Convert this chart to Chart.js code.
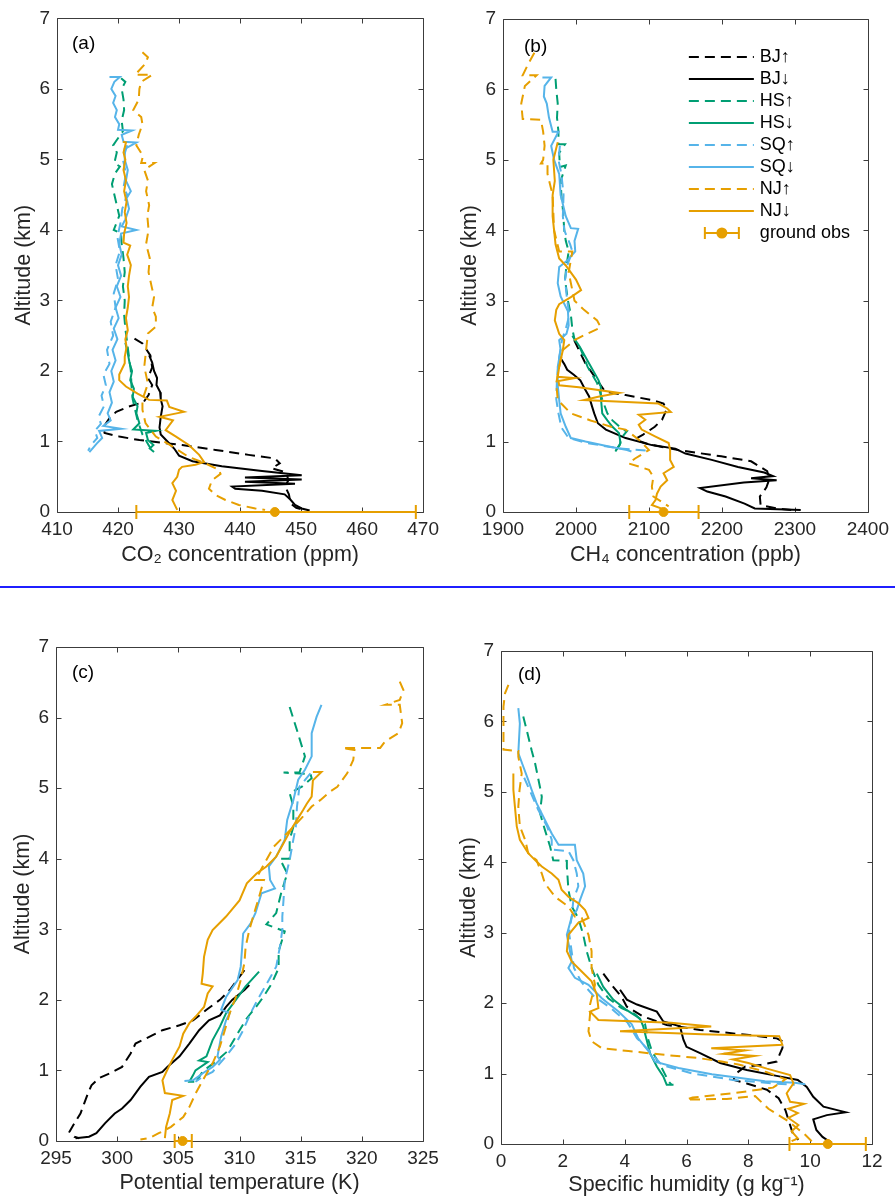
<!DOCTYPE html>
<html><head><meta charset="utf-8">
<script src="https://cdn.jsdelivr.net/npm/chart.js@4.4.1/dist/chart.umd.min.js"></script>
<style>
html,body{margin:0;padding:0;background:#fff;}
#wrap{position:relative;width:895px;height:1198px;overflow:hidden;background:#fff;}
canvas{position:absolute;display:block;}
#sep{position:absolute;left:0;top:586px;width:895px;height:2px;background:#1f1fff;}
</style></head><body>
<div id="wrap">
<canvas id="ca" width="445" height="580" style="left:0;top:0"></canvas>
<canvas id="cb" width="450" height="580" style="left:445px;top:0"></canvas>
<div id="sep"></div>
<canvas id="cc" width="445" height="598" style="left:0;top:600px"></canvas>
<canvas id="cd" width="450" height="598" style="left:445px;top:600px"></canvas>
</div>
<script>
// ---------------- DATA ----------------
const seriesLabels = ['BJ↑','BJ↓','HS↑','HS↓','SQ↑','SQ↓','NJ↑','NJ↓'];
const altTicks = [0,1,2,3,4,5,6,7];
const co2Ticks = [410,420,430,440,450,460,470];
const ch4Ticks = [1900,2000,2100,2200,2300,2400];
const thetaTicks = [295,300,305,310,315,320,325];
const qTicks = [0,2,4,6,8,10,12];

// Panel (a) CO2 [ppm, km]
const co2_BJ_up = [[422.7,2.46],[424.0,2.39],[425.3,2.22],[425.6,2.05],[424.9,1.9],[425.6,1.8],[425.0,1.66],[424.2,1.56],[421.6,1.49],[419.7,1.42],[418.6,1.33],[417.6,1.2],[417.8,1.12],[420.2,1.07],[423.5,1.02],[430.5,0.95],[436.0,0.88],[441.4,0.81],[445.7,0.76],[446.5,0.69],[445.2,0.62],[447.6,0.56],[447.9,0.45],[447.4,0.36],[448.0,0.25],[448.3,0.12],[449.2,0.06],[450.5,0.03]];
const co2_BJ_dn = [[425.1,2.22],[425.6,2.12],[425.9,2.0],[426.4,1.9],[426.3,1.8],[426.9,1.7],[427.0,1.6],[427.3,1.5],[427.0,1.35],[426.8,1.2],[427.0,1.1],[428.1,1.0],[429.2,0.9],[430.0,0.8],[432.2,0.72],[437.0,0.65],[443.6,0.58],[450.1,0.52],[440.8,0.49],[450.1,0.46],[440.8,0.43],[449.0,0.40],[438.7,0.36],[439.2,0.33],[443.6,0.30],[447.3,0.25],[448.2,0.18],[449.0,0.10],[450.1,0.05],[451.4,0.02]];
const co2_HS_up = [[420.5,6.15],[421.2,6.1],[420.6,6.0],[420.9,5.85],[421.0,5.7],[420.6,5.55],[420.8,5.4],[419.6,5.25],[419.2,5.2],[419.8,5.1],[419.4,4.95],[420.3,4.9],[419.5,4.8],[419.0,4.65],[419.4,4.5],[419.8,4.35],[420.2,4.2],[419.3,4.0],[420.5,3.95],[420.6,3.8],[420.9,3.6],[421.1,3.4],[420.8,3.2],[421.1,3.0],[421.0,2.8],[421.2,2.6],[421.5,2.4],[421.8,2.2],[422.1,2.0],[422.2,1.8],[422.4,1.6],[423.2,1.3],[424.0,1.1],[425.0,0.95],[425.7,0.85]];
const co2_HS_dn = [[421.2,2.4],[421.6,2.25],[421.9,2.11],[422.3,2.0],[422.0,1.87],[422.6,1.75],[422.4,1.63],[423.2,1.5],[423.0,1.4],[423.5,1.26],[422.5,1.17],[426.2,1.15],[424.6,1.12],[424.9,1.02],[425.8,0.95],[425.2,0.9],[425.9,0.85]];
const co2_SQ_up = [[421.5,5.2],[420.8,5.0],[421.3,4.8],[420.9,4.6],[421.5,4.5],[420.7,4.3],[420.4,4.1],[419.9,3.9],[420.3,3.7],[419.6,3.5],[420.0,3.3],[419.3,3.1],[419.6,2.9],[418.8,2.7],[419.2,2.5],[418.2,2.3],[418.6,2.1],[417.6,1.95],[418.0,1.8],[417.3,1.65],[417.7,1.5],[416.8,1.35],[417.2,1.25],[416.2,1.15],[416.6,1.05],[415.6,0.95],[415.1,0.87]];
const co2_SQ_dn = [[418.6,6.17],[420.3,6.17],[419.4,6.1],[418.9,6.0],[419.6,5.9],[419.2,5.8],[419.8,5.7],[419.5,5.6],[420.2,5.5],[420.0,5.42],[422.3,5.41],[420.6,5.35],[420.9,5.25],[423.0,5.24],[421.1,5.15],[421.1,5.0],[421.6,4.85],[421.3,4.7],[422.1,4.55],[421.4,4.45],[421.8,4.3],[421.2,4.15],[420.6,4.05],[423.0,4.0],[420.5,3.95],[420.2,3.8],[420.6,3.65],[420.0,3.5],[420.5,3.35],[419.8,3.2],[420.4,3.05],[419.6,2.9],[420.1,2.75],[419.3,2.6],[419.9,2.45],[419.1,2.3],[419.6,2.15],[418.9,2.0],[419.3,1.85],[418.6,1.7],[419.0,1.55],[418.3,1.4],[418.8,1.3],[417.6,1.22],[420.5,1.18],[416.9,1.15],[417.4,1.05],[416.5,0.97],[415.8,0.9],[415.3,0.85]];
const co2_NJ_up = [[424.0,6.52],[424.9,6.45],[424.4,6.35],[422.8,6.2],[425.6,6.2],[423.8,6.1],[423.5,6.0],[423.4,5.85],[422.5,5.7],[423.8,5.6],[424.0,5.5],[423.4,5.35],[423.0,5.2],[424.1,5.05],[423.8,4.95],[426.0,4.95],[424.3,4.85],[424.9,4.7],[424.6,4.55],[425.1,4.35],[424.8,4.2],[425.0,4.0],[424.6,3.8],[425.2,3.6],[425.0,3.4],[425.5,3.2],[425.9,3.05],[425.6,2.9],[426.2,2.77],[426.2,2.63],[424.9,2.53],[424.6,2.3],[424.3,2.06],[424.9,1.82],[424.0,1.59],[424.0,1.45],[424.5,1.26],[426.2,1.07],[428.9,0.93],[431.6,0.78],[434.3,0.69],[436.5,0.6],[436.8,0.54],[435.4,0.45],[434.9,0.33],[436.0,0.24],[437.6,0.17],[439.8,0.1],[442.5,0.05],[444.1,0.03]];
const co2_NJ_dn = [[420.8,5.25],[421.3,5.24],[420.9,5.1],[421.2,5.0],[420.9,4.85],[421.3,4.7],[421.0,4.55],[421.4,4.4],[421.1,4.25],[421.4,4.1],[421.0,3.95],[420.9,3.82],[422.0,3.78],[421.5,3.65],[422.1,3.5],[421.8,3.35],[421.6,3.2],[421.8,3.05],[421.6,2.9],[421.3,2.75],[421.6,2.58],[421.2,2.45],[421.4,2.34],[421.1,2.2],[421.1,2.11],[420.2,1.95],[420.2,1.87],[421.3,1.78],[423.2,1.68],[425.1,1.59],[428.0,1.58],[428.4,1.49],[430.8,1.42],[426.8,1.35],[429.0,1.3],[427.8,1.16],[429.5,1.07],[431.6,0.95],[433.3,0.81],[434.1,0.71],[432.7,0.67],[430.5,0.64],[430.0,0.6],[429.7,0.5],[428.9,0.41],[429.5,0.3],[428.9,0.17],[429.7,0.03]];
const co2_gobs = [445.7, 423.0, 468.8]; // mean, low, high

// Panel (b) CH4 [ppb, km]
const ch4_BJ_up = [[1997.5,2.44],[2004,2.3],[2013,2.11],[2029,1.87],[2040,1.71],[2068,1.66],[2104,1.59],[2120,1.54],[2124,1.45],[2118,1.31],[2108,1.21],[2092,1.1],[2080,1.03],[2100,0.96],[2140,0.88],[2199,0.79],[2240,0.72],[2262,0.58],[2265,0.47],[2261,0.35],[2252,0.22],[2253,0.1],[2275,0.05],[2295,0.03]];
const ch4_BJ_dn = [[1978,2.2],[1984,2.1],[1988,2.02],[1997,1.95],[2006,1.87],[2012,1.75],[2018,1.64],[2022,1.5],[2025,1.4],[2030,1.26],[2041,1.17],[2068,1.05],[2104,0.95],[2136,0.9],[2150,0.83],[2186,0.74],[2222,0.64],[2258,0.56],[2270,0.51],[2240,0.48],[2275,0.45],[2230,0.42],[2170,0.34],[2180,0.29],[2205,0.22],[2231,0.12],[2245,0.05],[2308,0.03]];
const ch4_HS_up = [[1972,6.15],[1973,6.0],[1975,5.8],[1974,5.6],[1976,5.4],[1976,5.22],[1985,5.22],[1977,5.1],[1978,4.9],[1986,4.92],[1979,4.7],[1980,4.5],[1982,4.3],[1984,4.0],[1986,3.85],[1990,3.7],[1987,3.5],[1985,3.3],[1989,3.0],[1993,2.8],[1995,2.6],[1998,2.45],[2007,2.3],[2016,2.06],[2029,1.83],[2036,1.6],[2043,1.4],[2050,1.3],[2064,1.17],[2070,1.15],[2062,1.05],[2060,0.95],[2052,0.84]];
const ch4_HS_dn = [[1995,2.5],[2005,2.35],[2018,2.11],[2031,1.87],[2034,1.78],[2034,1.64],[2036,1.4],[2043,1.3],[2050,1.21],[2059,1.12],[2061,0.98],[2054,0.86]];
const ch4_SQ_up = [[1978,5.2],[1976,5.0],[1980,4.8],[1983,4.5],[1982,4.2],[1984,4.0],[1992,3.8],[1995,3.7],[1988,3.5],[1985,3.3],[1988,3.0],[1991,2.8],[1986,2.6],[1981,2.45],[1977,2.2],[1974,1.9],[1973,1.6],[1976,1.4],[1980,1.2],[1990,1.05],[2015,0.98],[2060,0.9],[2100,0.87]];
const ch4_SQ_dn = [[1954,6.17],[1966,6.17],[1957,6.05],[1956,5.9],[1960,5.8],[1963,5.6],[1968,5.4],[1976,5.4],[1966,5.2],[1970,5.0],[1977,4.8],[1979,4.5],[1986,4.2],[1993,4.03],[2003,4.02],[1998,3.85],[1999,3.7],[1988,3.57],[1977,3.48],[1975,3.25],[1979,3.06],[1989,2.85],[1990,2.65],[1987,2.53],[1977,2.44],[1979,2.3],[1975,2.06],[1975,1.8],[1977,1.59],[1979,1.4],[1986,1.21],[1993,1.05],[2013,1.0],[2045,0.93],[2070,0.88],[2076,0.86]];
const ch4_NJ_up = [[1943,6.52],[1934,6.35],[1927,6.2],[1946,6.2],[1930,6.05],[1925,5.8],[1927,5.58],[1952,5.57],[1955,5.4],[1957,5.2],[1955,5.0],[1952,4.95],[1961,4.95],[1961,4.8],[1968,4.5],[1970,4.0],[1977,3.7],[1995,3.7],[1990,3.4],[1998,3.0],[2011,2.87],[2029,2.72],[2034,2.62],[2015,2.53],[1998,2.44],[1982,2.3],[1977,2.06],[1973,1.83],[1975,1.59],[1993,1.4],[2020,1.3],[2048,1.21],[2068,1.17],[2087,1.02],[2100,0.88],[2081,0.76],[2072,0.69],[2100,0.6],[2106,0.5],[2104,0.36],[2106,0.22],[2127,0.08]];
const ch4_NJ_dn = [[1975,5.25],[1969,5.0],[1971,4.7],[1968,4.5],[1968,4.2],[1970,4.0],[1972,3.8],[1977,3.6],[1986,3.5],[2000,3.3],[2007,3.15],[1993,3.05],[1977,2.95],[1973,2.87],[1971,2.72],[1977,2.53],[1984,2.44],[1982,2.3],[1977,2.06],[1975,1.92],[1998,1.9],[1976,1.86],[1977,1.8],[2004,1.77],[2059,1.69],[2032,1.64],[2011,1.59],[2055,1.57],[2113,1.54],[2125,1.47],[2130,1.42],[2086,1.38],[2095,1.31],[2086,1.24],[2090,1.17],[2109,1.07],[2127,0.98],[2129,0.88],[2129,0.74],[2134,0.64],[2120,0.55],[2125,0.45],[2116,0.36],[2111,0.26],[2109,0.17],[2104,0.1],[2122,0.03]];
const ch4_gobs = [2120, 2073, 2168];

// Panel (c) potential temperature [K, km]
const th_BJ_up = [[310.4,2.42],[309.2,2.14],[308.4,2.0],[307.3,1.86],[306.2,1.71],[305.1,1.64],[303.7,1.57],[302.9,1.5],[301.5,1.38],[301.1,1.24],[300.4,1.05],[299.4,0.96],[298.5,0.89],[297.9,0.79],[297.6,0.67],[297.3,0.53],[297.0,0.39],[296.5,0.25],[296.1,0.13],[296.5,0.06],[296.9,0.04]];
const th_BJ_dn = [[310.8,2.21],[310.4,2.14],[309.4,2.0],[308.9,1.9],[308.4,1.78],[307.5,1.71],[306.7,1.57],[305.9,1.38],[305.1,1.2],[304.1,1.05],[303.7,0.98],[302.6,0.91],[301.9,0.77],[301.1,0.58],[300.4,0.46],[299.8,0.39],[299.0,0.25],[298.3,0.11],[297.7,0.06],[296.6,0.04]];
const th_HS_up = [[314.1,6.15],[314.7,5.82],[315.35,5.45],[314.9,5.22],[313.6,5.22],[315.8,5.2],[315.9,5.14],[315.1,5.02],[314.1,4.93],[314.4,4.74],[314.4,4.45],[314.1,4.27],[314.1,4.0],[313.3,4.0],[313.9,3.79],[313.4,3.51],[313.0,3.23],[312.2,3.07],[313.7,2.97],[313.2,2.69],[313.2,2.45],[312.6,2.22],[311.9,2.03],[311.4,1.91],[310.6,1.74],[309.8,1.51],[309.0,1.27],[308.1,1.13],[307.0,0.99],[306.5,0.85]];
const th_HS_dn = [[311.6,2.4],[310.5,2.19],[309.7,2.0],[308.9,1.81],[308.4,1.62],[307.8,1.43],[307.3,1.2],[306.7,1.14],[307.4,1.12],[306.4,1.0],[306.2,0.93],[305.9,0.84],[306.3,0.84]];
const th_SQ_up = [[315.8,5.21],[314.9,5.02],[314.7,4.74],[314.6,4.45],[314.4,4.27],[314.1,3.98],[313.7,3.7],[313.6,3.42],[313.5,3.18],[313.5,2.99],[313.3,2.75],[313.0,2.47],[312.4,2.28],[311.6,2.04],[310.9,1.81],[310.3,1.57],[309.7,1.38],[308.9,1.2],[307.8,0.98],[307.0,0.91],[306.4,0.84]];
const th_SQ_dn = [[316.7,6.18],[316.3,6.01],[315.9,5.78],[315.9,5.45],[315.35,5.26],[314.8,5.12],[314.4,4.83],[313.9,4.55],[313.7,4.27],[313.0,4.03],[312.4,3.89],[312.5,3.7],[312.9,3.58],[311.8,3.51],[311.3,3.23],[310.9,3.08],[310.3,2.94],[310.1,2.47],[309.85,2.28],[308.9,2.04],[308.5,1.86],[309.2,1.81],[308.9,1.71],[308.5,1.48],[308.2,1.2],[308.4,1.15],[307.8,1.05],[307.0,0.96],[306.2,0.86],[305.5,0.85]];
const th_NJ_up = [[323.1,6.51],[323.4,6.39],[323.1,6.25],[321.9,6.18],[323.1,6.18],[323.3,5.92],[323.0,5.78],[321.9,5.66],[321.5,5.57],[318.4,5.57],[319.4,5.54],[319.3,5.4],[318.8,5.21],[318.0,5.02],[317.4,4.95],[316.6,4.83],[315.9,4.74],[315.2,4.6],[314.4,4.45],[313.6,4.31],[312.8,4.17],[311.9,3.89],[311.3,3.7],[312.0,3.7],[311.6,3.46],[311.2,3.23],[310.8,2.99],[310.5,2.75],[310.4,2.52],[310.1,2.28],[309.7,2.04],[309.2,1.81],[308.8,1.57],[308.4,1.34],[307.8,1.1],[307.0,0.86],[306.4,0.67],[305.9,0.48],[305.4,0.34],[304.4,0.2],[303.4,0.11],[302.6,0.04],[301.9,0.02]];
const th_NJ_dn = [[316.0,5.23],[316.7,5.23],[316.0,5.11],[315.9,4.88],[315.5,4.78],[315.2,4.69],[314.7,4.55],[314.1,4.38],[313.6,4.22],[313.0,4.03],[312.2,3.89],[311.4,3.79],[310.6,3.65],[310.0,3.41],[308.9,3.18],[307.8,2.99],[307.4,2.85],[307.1,2.61],[307.0,2.38],[306.9,2.23],[307.8,2.19],[307.4,2.09],[307.1,1.9],[306.4,1.76],[305.9,1.67],[305.4,1.52],[305.1,1.34],[304.5,1.15],[304.1,1.01],[303.7,0.86],[303.9,0.68],[305.4,0.64],[304.5,0.58],[304.3,0.39],[304.0,0.2],[303.9,0.04]];
const th_gobs = [305.35, 304.7, 306.1];

// Panel (d) specific humidity [g/kg, km]
const q_BJ_up = [[3.31,2.42],[3.63,2.23],[3.9,2.09],[4.07,1.95],[4.6,1.81],[5.36,1.69],[6.44,1.62],[7.95,1.55],[8.92,1.5],[9.14,1.45],[9.1,1.36],[9.03,1.29],[8.92,1.17],[8.38,1.12],[7.9,1.1],[7.6,1.0],[7.52,0.91],[7.95,0.86],[8.6,0.77],[8.98,0.65],[9.2,0.48],[9.35,0.27],[9.46,0.12],[9.62,0.06]];
const q_BJ_dn = [[3.85,2.19],[4.07,2.05],[4.4,1.98],[5.04,1.88],[5.25,1.74],[5.79,1.67],[5.9,1.48],[6.0,1.38],[6.44,1.29],[7.09,1.15],[7.95,1.05],[9.0,0.96],[9.6,0.91],[9.89,0.81],[10.1,0.67],[10.43,0.53],[10.97,0.47],[11.15,0.45],[10.54,0.41],[10.1,0.35],[10.2,0.2],[10.4,0.1],[10.54,0.06],[10.7,0.02]];
const q_HS_up = [[0.72,6.07],[0.83,5.88],[0.99,5.59],[1.1,5.41],[1.26,5.07],[1.32,4.93],[1.26,4.7],[1.42,4.46],[1.59,4.22],[1.69,4.03],[2.13,4.02],[2.13,3.94],[2.18,3.61],[2.29,3.37],[2.5,3.21],[2.66,2.97],[2.77,2.74],[2.93,2.5],[3.15,2.26],[3.47,2.07],[3.9,1.93],[4.34,1.84],[4.66,1.7],[4.75,1.5],[4.88,1.32],[5.2,1.08],[5.42,0.89],[5.52,0.84]];
const q_HS_dn = [[3.1,2.42],[3.31,2.23],[3.63,2.05],[4.07,1.9],[4.5,1.78],[4.6,1.67],[4.71,1.48],[4.82,1.29],[5.04,1.1],[5.25,0.96],[5.36,0.84],[5.58,0.84]];
const q_SQ_up = [[0.75,5.2],[0.95,5.0],[1.2,4.75],[1.5,4.5],[1.64,4.32],[1.64,4.18],[2.18,4.16],[2.34,4.03],[2.45,3.84],[2.5,3.66],[2.34,3.47],[2.29,3.23],[2.2,3.0],[2.28,2.75],[2.36,2.5],[2.6,2.3],[3.0,2.1],[3.55,1.93],[4.1,1.72],[4.4,1.5],[4.85,1.3],[5.2,1.12],[6.2,1.0],[7.5,0.91],[8.8,0.86],[9.5,0.84]];
const q_SQ_dn = [[0.56,6.19],[0.61,5.97],[0.56,5.55],[0.72,5.36],[0.88,5.17],[0.99,5.03],[1.15,4.84],[1.42,4.6],[1.64,4.41],[1.86,4.25],[2.39,4.25],[2.45,4.03],[2.66,3.84],[2.72,3.66],[2.56,3.47],[2.45,3.32],[2.29,3.23],[2.13,2.97],[2.23,2.74],[2.29,2.59],[2.18,2.5],[2.39,2.36],[2.83,2.26],[3.26,2.07],[3.8,1.88],[4.23,1.7],[4.44,1.5],[4.77,1.32],[4.98,1.17],[5.74,1.08],[6.82,0.99],[7.68,0.94],[8.54,0.89],[9.5,0.87],[9.84,0.85]];
const q_NJ_up = [[0.24,6.52],[0.13,6.4],[0.08,6.21],[0.08,5.6],[0.56,5.58],[0.56,5.5],[0.67,5.26],[0.6,5.03],[0.56,4.79],[0.61,4.51],[0.78,4.32],[0.88,4.13],[1.15,4.03],[1.32,3.84],[1.42,3.7],[1.75,3.51],[2.18,3.37],[2.39,3.23],[2.61,3.21],[2.83,2.97],[2.93,2.74],[2.93,2.5],[3.04,2.26],[2.88,1.98],[2.88,1.84],[2.83,1.6],[2.93,1.46],[3.26,1.36],[4.12,1.32],[5.2,1.27],[6.39,1.22],[7.14,1.17],[7.68,1.13],[8.6,1.02],[9.2,0.92],[8.8,0.8],[7.5,0.72],[6.2,0.66],[6.0,0.63],[7.3,0.64],[8.22,0.68],[8.65,0.5],[9.3,0.32],[9.84,0.13],[10.05,0.04]];
const q_NJ_dn = [[0.4,5.26],[0.4,5.03],[0.45,4.79],[0.51,4.51],[0.61,4.32],[0.75,4.22],[0.88,4.13],[1.15,4.01],[1.32,3.94],[1.64,3.84],[1.86,3.75],[1.96,3.61],[2.18,3.51],[2.5,3.42],[2.72,3.32],[2.83,3.21],[2.5,3.14],[2.18,2.97],[2.13,2.74],[2.29,2.59],[2.61,2.45],[2.93,2.31],[3.1,2.12],[3.15,1.93],[2.88,1.88],[3.04,1.81],[3.15,1.76],[5.5,1.72],[6.8,1.67],[3.85,1.6],[6.5,1.56],[9.0,1.53],[9.1,1.41],[6.8,1.36],[7.9,1.33],[7.2,1.28],[8.2,1.25],[7.5,1.2],[8.0,1.15],[8.6,1.07],[9.35,0.98],[9.46,0.86],[9.24,0.72],[9.35,0.6],[9.8,0.57],[9.3,0.5],[9.6,0.44],[9.3,0.37],[9.62,0.27],[9.4,0.18],[9.6,0.08],[9.4,0.04]];
const q_gobs = [10.57, 9.33, 11.8];

// ---------------- STYLE ----------------
const FONT = "'Liberation Sans', Arial, Helvetica, sans-serif";
const AXC = '#262626';
const ORANGE = '#E69F00';
const seriesStyles = [
  {c:'#000000', dash:true}, {c:'#000000', dash:false},
  {c:'#009E73', dash:true}, {c:'#009E73', dash:false},
  {c:'#56B4E9', dash:true}, {c:'#56B4E9', dash:false},
  {c:ORANGE, dash:true}, {c:ORANGE, dash:false}
];
const DASH = [10,6];
Chart.defaults.font.family = FONT;

function buildDatasets(seriesArrs, gobs) {
  const ds = seriesArrs.map((arr, i) => ({
    label: seriesLabels[i],
    data: arr.map(p => ({x: p[0], y: p[1]})),
    showLine: true,
    borderColor: seriesStyles[i].c,
    backgroundColor: seriesStyles[i].c,
    borderWidth: 2,
    borderDash: seriesStyles[i].dash ? DASH : [],
    pointRadius: 0, pointHoverRadius: 0,
    tension: 0, fill: false,
    order: 20 - i
  }));
  ds.push({
    label: 'ground obs',
    data: [{x: gobs[0], y: 0}],
    showLine: false,
    pointRadius: 4.5, pointHoverRadius: 4.5,
    pointBackgroundColor: ORANGE, pointBorderColor: ORANGE,
    borderColor: ORANGE, backgroundColor: ORANGE,
    clip: false, order: 0,
    errLo: gobs[1], errHi: gobs[2]
  });
  return ds;
}

// ---------------- PLUGINS ----------------
const framePlugin = {
  id: 'frame',
  beforeDatasetsDraw(chart) {
    const {ctx, chartArea: a, scales: {x, y}} = chart;
    const L = 5;
    ctx.save();
    ctx.strokeStyle = '#3c3c3c';
    ctx.lineWidth = 1;
    const l = Math.round(a.left) + 0.5, t = Math.round(a.top) + 0.5;
    const r = Math.round(a.right) + 0.5, b = Math.round(a.bottom) + 0.5;
    ctx.beginPath();
    ctx.rect(l, t, r - l, b - t);
    x.ticks.forEach(tk => {
      const px = Math.round(x.getPixelForValue(tk.value)) + 0.5;
      ctx.moveTo(px, b); ctx.lineTo(px, b - L);
      ctx.moveTo(px, t); ctx.lineTo(px, t + L);
    });
    y.ticks.forEach(tk => {
      const py = Math.round(y.getPixelForValue(tk.value)) + 0.5;
      ctx.moveTo(l, py); ctx.lineTo(l + L, py);
      ctx.moveTo(r, py); ctx.lineTo(r - L, py);
    });
    ctx.stroke();
    ctx.restore();
  }
};

const errBarPlugin = {
  id: 'errBar',
  afterDatasetsDraw(chart) {
    const {ctx, scales: {x, y}} = chart;
    chart.data.datasets.forEach(d => {
      if (d.errLo === undefined) return;
      const py = y.getPixelForValue(d.data[0].y);
      const x0 = x.getPixelForValue(d.errLo), x1 = x.getPixelForValue(d.errHi);
      ctx.save();
      ctx.strokeStyle = d.borderColor;
      ctx.lineWidth = 2;
      ctx.beginPath();
      ctx.moveTo(x0, py); ctx.lineTo(x1, py);
      ctx.moveTo(x0, py - 7); ctx.lineTo(x0, py + 7);
      ctx.moveTo(x1, py - 7); ctx.lineTo(x1, py + 7);
      ctx.stroke();
      ctx.restore();
    });
  }
};

const panelLabelPlugin = {
  id: 'panelLabel',
  afterDraw(chart, args, opts) {
    if (!opts || !opts.text) return;
    const {ctx, chartArea: a} = chart;
    ctx.save();
    ctx.font = `19px ${FONT}`;
    ctx.fillStyle = '#000';
    ctx.textBaseline = 'middle';
    ctx.textAlign = 'left';
    ctx.fillText(opts.text, a.left + opts.dx, a.top + opts.dy);
    ctx.restore();
  }
};

const profLegendPlugin = {
  id: 'profLegend',
  afterDraw(chart, args, opts) {
    if (!opts || !opts.show) return;
    const {ctx, chartArea: a} = chart;
    const ds = chart.data.datasets;
    const x0 = a.right - 179, x1 = a.right - 114, tx = a.right - 108;
    ctx.save();
    ctx.font = `18px ${FONT}`;
    ctx.textBaseline = 'middle';
    ctx.textAlign = 'left';
    ds.forEach((d, i) => {
      const yy = a.top + 38 + i * 22;
      if (d.errLo === undefined) {
        ctx.strokeStyle = d.borderColor;
        ctx.lineWidth = d.borderWidth;
        ctx.setLineDash(d.borderDash);
        ctx.beginPath();
        ctx.moveTo(x0, yy); ctx.lineTo(x1, yy);
        ctx.stroke();
        ctx.setLineDash([]);
      } else {
        const cx = a.right - 146;
        ctx.strokeStyle = d.borderColor;
        ctx.fillStyle = d.borderColor;
        ctx.lineWidth = 2;
        ctx.beginPath();
        ctx.moveTo(cx - 17, yy); ctx.lineTo(cx + 17, yy);
        ctx.moveTo(cx - 17, yy - 6); ctx.lineTo(cx - 17, yy + 6);
        ctx.moveTo(cx + 17, yy - 6); ctx.lineTo(cx + 17, yy + 6);
        ctx.stroke();
        ctx.beginPath();
        ctx.arc(cx, yy, 5.5, 0, Math.PI * 2);
        ctx.fill();
      }
      ctx.fillStyle = '#000';
      ctx.fillText(d.label, tx, yy);
    });
    ctx.restore();
  }
};

// ---------------- CHART FACTORY ----------------
function makeChart(id, cfg) {
  const tickFont = {family: FONT, size: 19};
  const titleFont = {family: FONT, size: 21.5};
  return new Chart(document.getElementById(id), {
    type: 'scatter',
    data: {datasets: buildDatasets(cfg.series, cfg.gobs)},
    options: {
      responsive: false,
      animation: false,
      events: [],
      layout: {padding: {top: cfg.padTop, right: cfg.padRight, left: 0, bottom: 0}},
      scales: {
        x: {
          type: 'linear', position: 'bottom',
          min: cfg.xTicks[0], max: cfg.xTicks[cfg.xTicks.length - 1],
          afterBuildTicks: s => { s.ticks = cfg.xTicks.map(v => ({value: v})); },
          ticks: {font: tickFont, color: AXC, padding: 6, maxRotation: 0, autoSkip: false,
                  callback: v => String(v)},
          grid: {display: false, drawTicks: false},
          border: {display: false},
          title: {display: true, text: cfg.xTitle, font: titleFont, color: AXC, padding: {top: 0, bottom: cfg.xTitlePad}},
          afterFit: s => { s.height = cfg.xAxisH; }
        },
        y: {
          type: 'linear', position: 'left',
          min: 0, max: 7,
          afterBuildTicks: s => { s.ticks = altTicks.map(v => ({value: v})); },
          ticks: {font: tickFont, color: AXC, padding: 7, callback: v => String(v)},
          grid: {display: false, drawTicks: false},
          border: {display: false},
          title: {display: true, text: 'Altitude (km)', font: titleFont, color: AXC, padding: {top: cfg.yTitlePad, bottom: 0}},
          afterFit: s => { s.width = cfg.yAxisW; }
        }
      },
      plugins: {
        legend: {display: false},
        tooltip: {enabled: false},
        panelLabel: {text: cfg.label, dx: cfg.labelDx, dy: cfg.labelDy},
        profLegend: {show: !!cfg.legend}
      }
    },
    plugins: [framePlugin, errBarPlugin, panelLabelPlugin, profLegendPlugin]
  });
}

makeChart('ca', {
  series: [co2_BJ_up, co2_BJ_dn, co2_HS_up, co2_HS_dn, co2_SQ_up, co2_SQ_dn, co2_NJ_up, co2_NJ_dn],
  gobs: co2_gobs, xTicks: co2Ticks, xTitle: 'CO₂ concentration (ppm)',
  padTop: 18, padRight: 19, xAxisH: 68, yAxisW: 57, xTitlePad: 12, yTitlePad: 11,
  label: '(a)', labelDx: 15, labelDy: 25
});
makeChart('cb', {
  series: [ch4_BJ_up, ch4_BJ_dn, ch4_HS_up, ch4_HS_dn, ch4_SQ_up, ch4_SQ_dn, ch4_NJ_up, ch4_NJ_dn],
  gobs: ch4_gobs, xTicks: ch4Ticks, xTitle: 'CH₄ concentration (ppb)',
  padTop: 19, padRight: 24, xAxisH: 68, yAxisW: 58, xTitlePad: 12, yTitlePad: 12,
  label: '(b)', labelDx: 21, labelDy: 28, legend: true
});
makeChart('cc', {
  series: [th_BJ_up, th_BJ_dn, th_HS_up, th_HS_dn, th_SQ_up, th_SQ_dn, th_NJ_up, th_NJ_dn],
  gobs: th_gobs, xTicks: thetaTicks, xTitle: 'Potential temperature (K)',
  padTop: 47, padRight: 22, xAxisH: 57, yAxisW: 56, xTitlePad: 2, yTitlePad: 10,
  label: '(c)', labelDx: 16, labelDy: 26
});
makeChart('cd', {
  series: [q_BJ_up, q_BJ_dn, q_HS_up, q_HS_dn, q_SQ_up, q_SQ_dn, q_NJ_up, q_NJ_dn],
  gobs: q_gobs, xTicks: qTicks, xTitle: 'Specific humidity (g kg⁻¹)',
  padTop: 51, padRight: 23, xAxisH: 54, yAxisW: 56, xTitlePad: 0, yTitlePad: 11,
  label: '(d)', labelDx: 17, labelDy: 24
});
</script>
</body></html>
